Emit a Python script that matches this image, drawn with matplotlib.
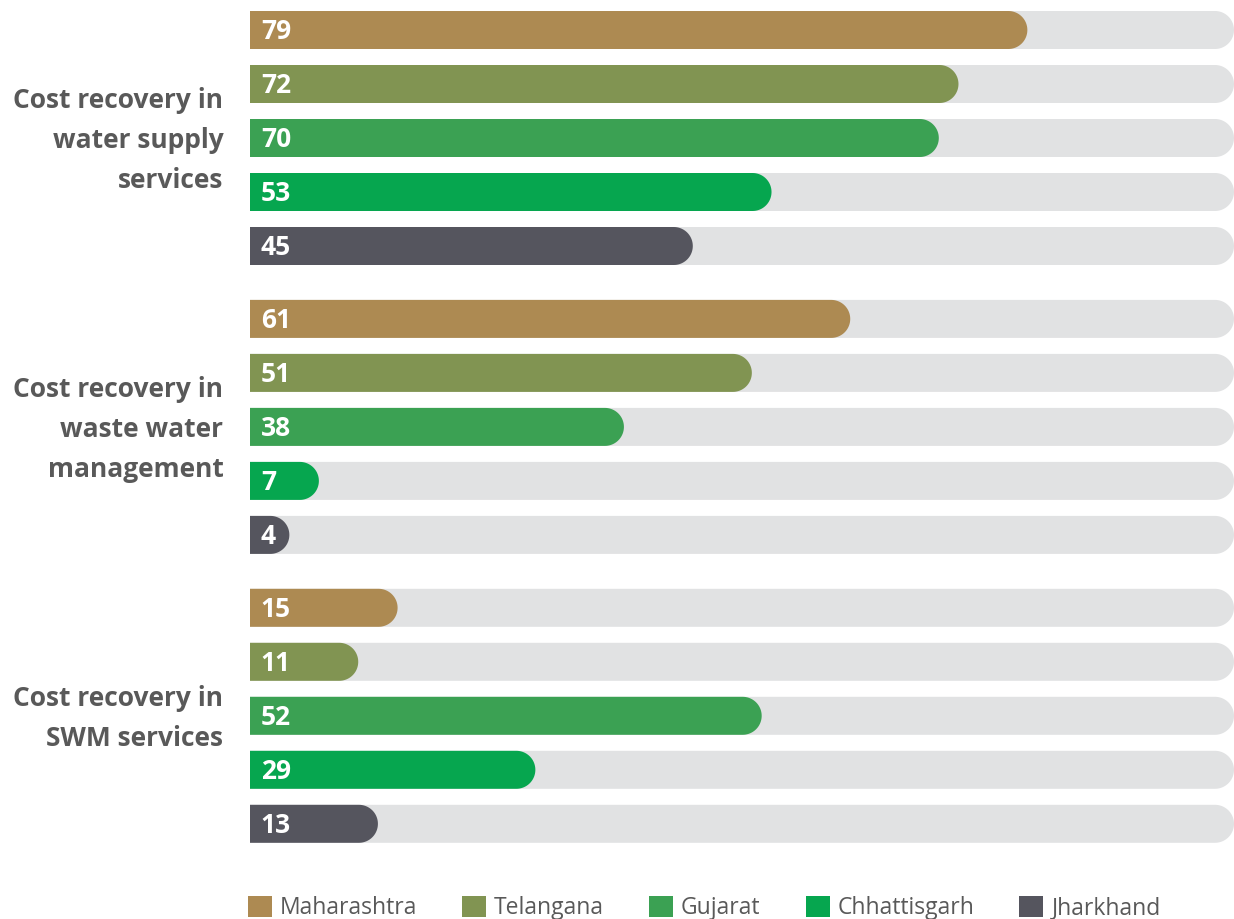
import numpy as np
import matplotlib
matplotlib.use("Agg")
import matplotlib.pyplot as plt
from matplotlib.path import Path
from matplotlib.patches import PathPatch, Rectangle

groups = ["Cost recovery in\nwater supply\nservices",
          "Cost recovery in\nwaste water\nmanagement",
          "Cost recovery in\nSWM services"]
states = ["Maharashtra", "Telangana", "Gujarat", "Chhattisgarh", "Jharkhand"]
water_supply = [79, 72, 70, 53, 45]
waste_water = [61, 51, 38, 7, 4]
swm = [15, 11, 52, 29, 13]
values = [water_supply, waste_water, swm]
max_value = 100

colors = ["#AD8A52", "#819452", "#3BA153", "#06A64F", "#55555E"]
track = "#E1E2E3"
text_gray = "#595959"

plt.rcParams['font.family'] = ['Open Sans', 'DejaVu Sans']

W, H = 1234, 919
fig = plt.figure(figsize=(W / 100, H / 100), dpi=100)
left_px, right_px = 250, 1234
ax = fig.add_axes([left_px / W, 0, (right_px - left_px) / W, 1])
slot_px = 54.0
first_center_px = 30.0
ax.set_xlim(0, max_value)
ax.set_ylim((H - first_center_px) / slot_px, -first_center_px / slot_px)
ax.axis("off")

px_per_x = (right_px - left_px) / max_value
px_per_y = slot_px
bar_h = 38 / slot_px
ry = bar_h / 2
rx = ry * px_per_y / px_per_x
group_gap = 0.35


def rounded_bar(x_end, yc, color, z):
    x_flat = max(x_end - rx, 0)
    verts = [(0, yc - ry), (x_flat, yc - ry)]
    t2 = np.linspace(np.pi / 2, -np.pi / 2, 40)
    verts += list(zip(x_flat + rx * np.cos(t2), yc - ry * np.sin(t2)))
    verts += [(0, yc + ry), (0, yc - ry)]
    codes = [Path.MOVETO] + [Path.LINETO] * (len(verts) - 2) + [Path.CLOSEPOLY]
    ax.add_patch(PathPatch(Path(verts, codes), facecolor=color, edgecolor="none", zorder=z))


for g, (gname, vals) in enumerate(zip(groups, values)):
    base = g * (len(states) + group_gap)
    for i, v in enumerate(vals):
        yc = base + i
        rounded_bar(max_value, yc, track, 1)
        rounded_bar(v, yc, colors[i], 2)
        ax.text(1.1, yc + 0.03, str(v), color="white", fontsize=19, fontweight="bold",
                va="center", ha="left", zorder=3)
    ax.text(-2.7, base + 2.05, gname, ha="right", va="center", fontsize=19,
            fontweight="bold", color=text_gray, linespacing=1.62,
            transform=ax.transData, clip_on=False)

handles = [Rectangle((0, 0), 1, 1, facecolor=c, edgecolor="none") for c in colors]
leg = fig.legend(handles, states, loc="lower left", bbox_to_anchor=(227 / W, -0.024),
                 ncol=5, frameon=False, fontsize=16.5, handlelength=1.05, handleheight=1.05,
                 handletextpad=0.35, columnspacing=1.96, labelcolor=text_gray)

fig.savefig("out.png", dpi=100)
